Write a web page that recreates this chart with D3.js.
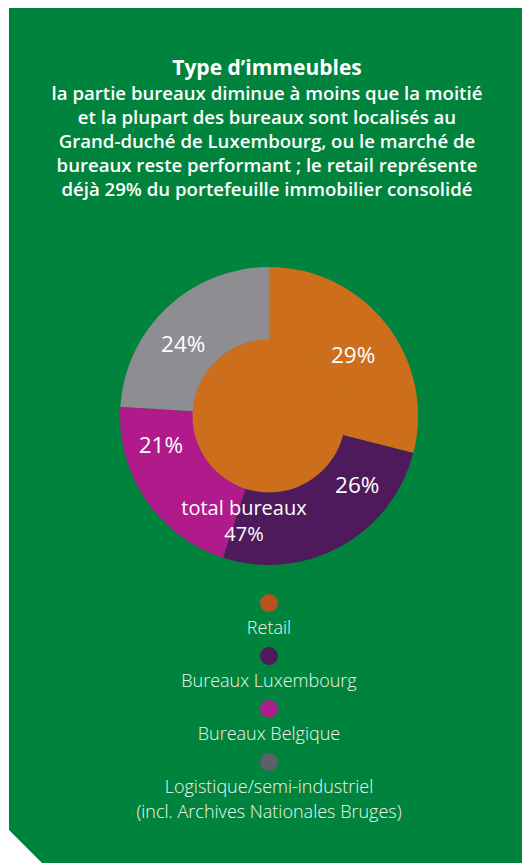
<!DOCTYPE html>
<html>
<head>
<meta charset="utf-8">
<script src="https://cdn.jsdelivr.net/npm/d3@7"></script>
<style>
  body { margin: 0; background: #fff; }
  svg { display: block; }
</style>
</head>
<body>
<div id="chart"></div>
<script>
// Data
const categories = ['Retail', 'Bureaux Luxembourg', 'Bureaux Belgique', 'Logistique/semi-industriel'];
const legendLabels = [['Retail'], ['Bureaux Luxembourg'], ['Bureaux Belgique'],
  ['Logistique/semi-industriel', '(incl. Archives Nationales Bruges)']];
const shares = [29, 26, 21, 24];
const labelAngles = [54, 128, 255, 310]; // degrees, clockwise from 12 o'clock
const labelRadii = [104, 112, 112, 112];
const sliceColors = ['#cc6e1c', '#4e1a5c', '#b01a8a', '#8e8d92'];
const dotColors = ['#b9521f', '#4f1a5b', '#ae1f8c', '#5e6068'];
const titleText = 'Type d\u2019immeubles';
const subtitleLines = [
  'la partie bureaux diminue à moins que la moitié',
  'et la plupart des bureaux sont localisés au',
  'Grand-duché de Luxembourg, ou le marché de',
  'bureaux reste performant ; le retail représente',
  'déjà 29% du portefeuille immobilier consolidé'
];
const totalLabel = ['total bureaux', '47%'];

const width = 522, height = 863;
const cx = 269, cy = 416;
const outerR = 149, innerR = 76;
const font = '"Open Sans", sans-serif';

const svg = d3.select('#chart').append('svg')
  .attr('width', width)
  .attr('height', height);

// green panel with cut corner
svg.append('path')
  .attr('d', 'M9,8 L522,8 L522,863 L42,863 L9,830 Z')
  .attr('fill', '#00843d');

// title
svg.append('text')
  .attr('x', 267).attr('y', 75)
  .attr('text-anchor', 'middle')
  .attr('font-family', font)
  .attr('font-weight', 700)
  .attr('font-size', 21)
  .attr('fill', '#fff')
  .text(titleText);

svg.append('g').selectAll('text')
  .data(subtitleLines)
  .join('text')
  .attr('x', 267)
  .attr('y', (d, i) => 100 + i * 24)
  .attr('text-anchor', 'middle')
  .attr('font-family', font)
  .attr('font-weight', 600)
  .attr('font-size', 18.6)
  .attr('fill', '#fff')
  .text(d => d);

// donut
const pie = d3.pie().sort(null).value(d => d);
const arcs = pie(shares);
const arc = d3.arc().innerRadius(innerR).outerRadius(outerR);

const g = svg.append('g').attr('transform', `translate(${cx},${cy})`);

g.selectAll('path.slice')
  .data(arcs)
  .join('path')
  .attr('class', 'slice')
  .attr('d', arc)
  .attr('fill', (d, i) => sliceColors[i]);

// centre filled with the retail colour
g.append('circle')
  .attr('r', innerR + 0.5)
  .attr('fill', sliceColors[0]);

const rad = a => a * Math.PI / 180;
g.selectAll('text.pct')
  .data(arcs)
  .join('text')
  .attr('class', 'pct')
  .attr('x', (d, i) => labelRadii[i] * Math.sin(rad(labelAngles[i])))
  .attr('y', (d, i) => -labelRadii[i] * Math.cos(rad(labelAngles[i])))
  .attr('dy', '0.36em')
  .attr('text-anchor', 'middle')
  .attr('font-family', font)
  .attr('font-size', 22.5)
  .attr('fill', '#fff')
  .text(d => d.data + '%');

g.selectAll('text.total')
  .data(totalLabel)
  .join('text')
  .attr('class', 'total')
  .attr('x', -25)
  .attr('y', (d, i) => 99 + i * 26)
  .attr('text-anchor', 'middle')
  .attr('font-family', font)
  .attr('font-size', 20)
  .attr('fill', '#fff')
  .text(d => d);

// legend
const legendY = d3.scalePoint().domain(categories).range([603, 762]);

const legend = svg.append('g').attr('class', 'legend');
categories.forEach((c, i) => {
  const y = legendY(c);
  legend.append('circle')
    .attr('cx', 269).attr('cy', y)
    .attr('r', 9)
    .attr('fill', dotColors[i]);
  legendLabels[i].forEach((t, j) => {
    legend.append('text')
      .attr('x', 269)
      .attr('y', y + 31 + j * 25)
      .attr('text-anchor', 'middle')
      .attr('font-family', font)
      .attr('font-weight', 300)
      .attr('font-size', 18)
      .attr('fill', '#eef7f0')
      .text(t);
  });
});
</script>
</body>
</html>
